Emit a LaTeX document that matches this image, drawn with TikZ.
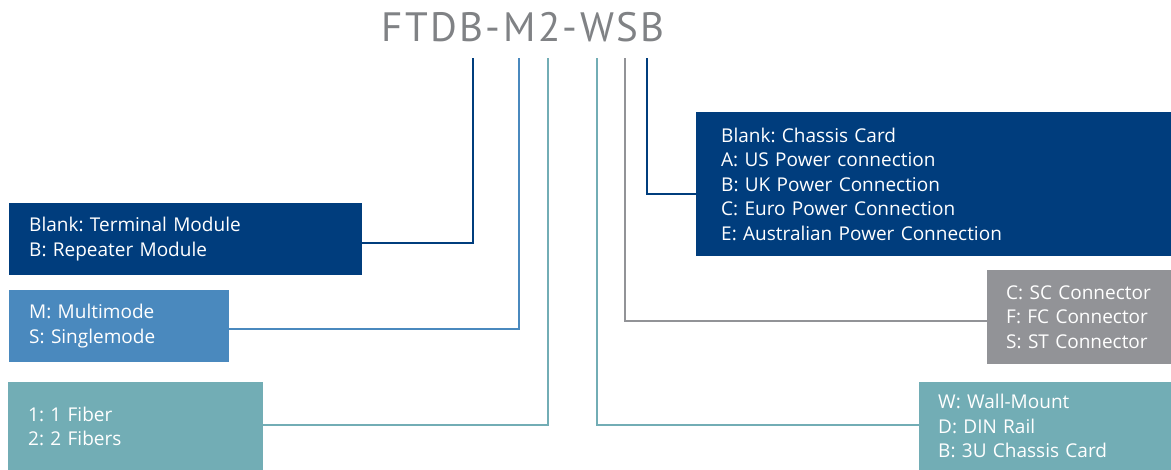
\documentclass[tikz,border=0pt]{standalone}
\usepackage{fontspec}
\setmainfont{Open Sans}
\newfontfamily\codefont{PT Sans}
\frenchspacing
\definecolor{navy}{RGB}{0,61,125}
\definecolor{midblue}{RGB}{74,137,190}
\definecolor{teal}{RGB}{114,173,181}
\definecolor{slate}{RGB}{146,147,151}
\definecolor{titlegray}{RGB}{128,130,133}
\tikzset{
    optbox/.style={anchor=north west, inner xsep=20pt, inner ysep=0pt, align=left,
        text=white, font=\fontsize{19}{24.5}\selectfont},
    lead/.style={line width=2pt}
}
\begin{document}
\begin{tikzpicture}[x=1pt, y=-1pt]
    \useasboundingbox (0, 0) rectangle (1171, 470);
        \node [titlegray, font=\codefont\fontsize{41}{41}\selectfont\addfontfeature{LetterSpace=6}] (code) at (523, 27) {FTDB-M2-WSB};
        % tick tops under the code
        \coordinate (t1) at (473, 58);
        \coordinate (t2) at (519, 58);
        \coordinate (t3) at (548, 58);
        \coordinate (t4) at (597, 58);
        \coordinate (t5) at (625, 58);
        \coordinate (t6) at (647, 58);
        % left side
        \node [optbox, fill=navy, text width=313pt, minimum height=72pt] (module) at (9, 203)
            {Blank: Terminal Module\\B: Repeater Module};
        \node [optbox, fill=midblue, text width=180pt, minimum height=72pt] (mode) at (9, 290)
            {M: Multimode\\S: Singlemode};
        \node [optbox, fill=teal, text width=215pt, minimum height=88pt] (fiber) at (8, 382)
            {1: 1 Fiber\\2: 2 Fibers};
        % right side
        \node [optbox, fill=navy, inner xsep=25pt, text width=425pt, minimum height=144pt] (power) at (696, 112)
            {Blank: Chassis Card\\A: US Power connection\\B: UK Power Connection\\C: Euro Power Connection\\E: Australian Power Connection};
        \node [optbox, fill=slate, inner xsep=16pt, text width=152pt, minimum height=94pt] (conn) at (987, 270)
            {\hspace*{3pt}C: SC Connector\\\hspace*{3pt}F: FC Connector\\\hspace*{3pt}S: ST Connector};
        \node [optbox, fill=teal, inner xsep=19pt, text width=214pt, minimum height=88pt] (mount) at (919, 382)
            {W: Wall-Mount\\D: DIN Rail\\B: 3U Chassis Card};
        % leads
        \draw[lead, navy] ([yshift=-4pt]module.east) -| (t1);
        \draw[lead, midblue] ([yshift=-3pt]mode.east) -| (t2);
        \draw[lead, teal] ([yshift=1pt]fiber.east) -| (t3);
        \draw[lead, teal] ([yshift=1pt]mount.west) -| (t4);
        \draw[lead, slate] ([yshift=-4pt]conn.west) -| (t5);
        \draw[lead, navy] ([yshift=-10pt]power.west) -| (t6);
    \end{tikzpicture}
\end{document}
